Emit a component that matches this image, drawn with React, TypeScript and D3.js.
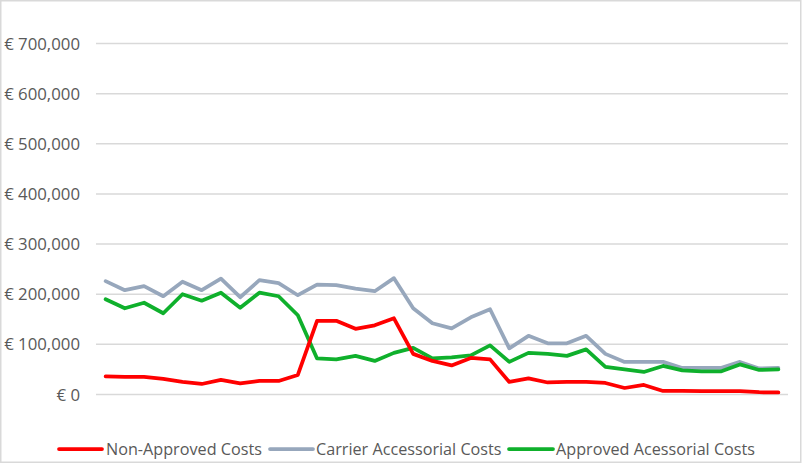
import React from "react";
import * as d3 from "d3";

const categories = Array.from({ length: 36 }, (_, i) => `P${i + 1}`);
const nonApproved = [36000, 35000, 35000, 31000, 25000, 21000, 29000, 22000, 27000, 27000, 39000, 147000, 147000, 131000, 138000, 152000, 81000, 67000, 58000, 73000, 70000, 25000, 32000, 24000, 25000, 25000, 23000, 13000, 19000, 7000, 7000, 6500, 6500, 6500, 4500, 4000];
const carrier = [226000, 208000, 216000, 196000, 225000, 208000, 231000, 194000, 228000, 222000, 198000, 219000, 218000, 211000, 206000, 232000, 172000, 142000, 132000, 154000, 170000, 92000, 117000, 102000, 102000, 117000, 81000, 65000, 65000, 65000, 53000, 53000, 53000, 65000, 52000, 53000];
const approved = [190000, 172000, 183000, 162000, 200000, 187000, 203000, 173000, 203000, 196000, 158000, 72000, 70000, 77000, 67000, 83000, 93000, 72000, 74000, 78000, 98000, 65000, 83000, 81000, 77000, 90000, 55000, 50000, 45000, 57000, 48000, 46000, 46000, 60000, 49000, 50000];
const tickValues = [0, 100000, 200000, 300000, 400000, 500000, 600000, 700000];
const tickLabels = ["€ 0", "€ 100,000", "€ 200,000", "€ 300,000", "€ 400,000", "€ 500,000", "€ 600,000", "€ 700,000"];
const seriesNames = ["Non-Approved Costs", "Carrier Accessorial Costs", "Approved Acessorial Costs"];
const seriesColors = ["#FF0000", "#97A7BC", "#0FB02C"];

export default function App() {
  const W = 806, H = 465;
  const x = d3.scalePoint<string>().domain(categories).range([96, 788]).padding(0.5);
  const y = d3.scaleLinear().domain([0, 700000]).range([394.5, 43.5]);
  const line = d3.line<number>().x((_, i) => x(categories[i]) as number).y((d) => y(d));
  const series = [nonApproved, carrier, approved];
  const drawOrder = [1, 2, 0];
  const legendX = [[59, 102, 106], [270, 313, 316], [509, 553, 556]];
  const font = "'Open Sans', sans-serif";
  return (
    <div style={{ position: "absolute", left: 0, top: 0, width: W, height: H, background: "#fff" }}>
      <svg width={W} height={H} style={{ display: "block" }}>
        <rect x={0.75} y={0.75} width={800} height={461.5} fill="#fff" stroke="#D9D9D9" strokeWidth={1.5} />
        {tickValues.map((t, i) => (
          <g key={t}>
            <line x1={96} x2={788} y1={y(t)} y2={y(t)} stroke="#D9D9D9" strokeWidth={1.5} />
            <text x={80} y={y(t)} dy="0.36em" textAnchor="end" fontFamily={font} fontSize={16.8} fill="#595959" xmlSpace="preserve">
              {tickLabels[i]}
            </text>
          </g>
        ))}
        {drawOrder.map((si) => (
          <path key={si} d={line(series[si]) || ""} fill="none" stroke={seriesColors[si]} strokeWidth={3.75} strokeLinejoin="round" strokeLinecap="round" />
        ))}
        {seriesNames.map((n, i) => (
          <g key={n}>
            <line x1={legendX[i][0]} x2={legendX[i][1]} y1={449} y2={449} stroke={seriesColors[i]} strokeWidth={3.75} strokeLinecap="round" />
            <text x={legendX[i][2]} y={449} dy="0.36em" fontFamily={font} fontSize={16.2} fill="#595959">
              {n}
            </text>
          </g>
        ))}
      </svg>
    </div>
  );
}
